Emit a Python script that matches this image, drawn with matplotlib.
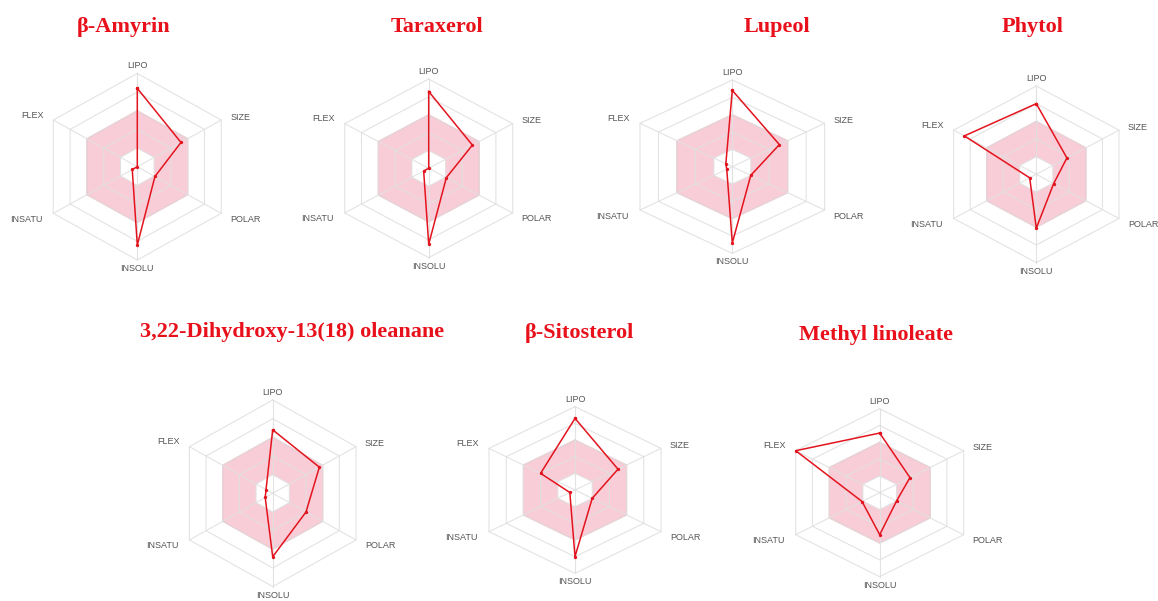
import numpy as np
import matplotlib
matplotlib.use("Agg")
import matplotlib.pyplot as plt

# ---------------- data ----------------
compounds = ["β-Amyrin", "Taraxerol", "Lupeol", "Phytol",
             "3,22-Dihydroxy-13(18) oleanane", "β-Sitosterol", "Methyl linoleate"]
axis_labels = ["LIPO", "SIZE", "POLAR", "INSOLU", "INSATU", "FLEX"]

lipo   = [0.84, 0.86, 0.88, 0.80, 0.68, 0.86, 0.71]
size   = [0.52, 0.52, 0.51, 0.37, 0.56, 0.50, 0.36]
polar  = [0.21, 0.21, 0.20, 0.21, 0.40, 0.20, 0.20]
insolu = [0.84, 0.85, 0.88, 0.61, 0.68, 0.80, 0.50]
insatu = [0.06, 0.06, 0.06, 0.08, 0.09, 0.06, 0.21]
flex   = [0.00, 0.00, 0.07, 0.87, 0.08, 0.40, 1.00]

# optimal (pink) range and grid rings
pink_inner, pink_outer = 0.2, 0.6
rings = [0.2, 0.4, 0.6, 0.8, 1.0]

# ---------------- layout (pixels) ----------------
W, H = 1158, 601
# (cx, cy, half-width of outer hexagon, vertical radius)
geom = [(137.3, 166.7, 84.0, 93.3),
        (428.7, 168.3, 84.0, 89.3),
        (732.3, 166.7, 92.3, 86.7),
        (1036.3, 174.3, 82.7, 88.3),
        (272.7, 493.3, 83.3, 93.3),
        (575.0, 490.0, 86.0, 83.3),
        (879.7, 492.7, 84.0, 84.0)]
title_pos = [(124, 27), (437, 27), (777, 27), (1033, 27),
             (292, 332), (579, 333), (876, 335)]

angles = np.deg2rad([90, 30, -30, -90, -150, 150])
label_off = [((0, 3), "center", "bottom"),
             ((9, 3), "left", "center"),
             ((9, -6), "left", "center"),
             ((0, -4), "center", "top"),
             ((-11, -6), "right", "center"),
             ((-10, 5), "right", "center")]

red = "#e3141e"
grid_col = "#e0e0e0"

fig = plt.figure(figsize=(W / 100, H / 100), dpi=100)
fig.patch.set_facecolor("white")

ext = 1.25
for i, name in enumerate(compounds):
    cx, cy, hw, ry = geom[i]
    sx = hw / np.cos(np.deg2rad(30))  # pixels per unit in x
    wpx = 2 * ext * sx
    hpx = 2 * ext * ry
    left = cx - ext * sx
    bottom = H - (cy + ext * ry)
    ax = fig.add_axes([left / W, bottom / H, wpx / W, hpx / H])
    ax.set_xlim(-ext, ext)
    ax.set_ylim(-ext, ext)
    ax.axis("off")

    cosa, sina = np.cos(angles), np.sin(angles)
    closed_c = np.append(cosa, cosa[0])
    closed_s = np.append(sina, sina[0])

    # pink optimal zone (ring between inner and outer hexagon)
    outer_x, outer_y = pink_outer * closed_c, pink_outer * closed_s
    inner_x, inner_y = pink_inner * closed_c[::-1], pink_inner * closed_s[::-1]
    ax.fill(np.concatenate([outer_x, inner_x]), np.concatenate([outer_y, inner_y]),
            facecolor="#f9cdd7", edgecolor="none", zorder=1)
    ax.plot(outer_x, outer_y, color="#f2aebd", lw=0.8, zorder=2)

    # grid
    for r in rings:
        ax.plot(r * closed_c, r * closed_s, color=grid_col, lw=0.8, zorder=2, alpha=0.9)
    for a in angles:
        ax.plot([0, np.cos(a)], [0, np.sin(a)], color=grid_col, lw=0.8, zorder=2, alpha=0.9)

    # axis labels
    for j, lab in enumerate(axis_labels):
        (dx, dy), ha, va = label_off[j]
        ax.annotate(lab, xy=(cosa[j], sina[j]), xytext=(dx, dy),
                    textcoords="offset pixels", ha=ha, va=va,
                    fontsize=6.5, color="#555555", family="Liberation Sans")

    # compound profile
    vals = np.array([lipo[i], size[i], polar[i], insolu[i], insatu[i], flex[i]])
    vals_c = np.append(vals, vals[0])
    ax.plot(vals_c * closed_c, vals_c * closed_s, color=red, lw=1.1, zorder=3,
            marker="o", markersize=2.4, markeredgewidth=0)

    tx, ty = title_pos[i]
    fig.text(tx / W, 1 - ty / H, name, ha="center", va="center",
             fontsize=16, fontweight="bold", color="#e8101a", family="Liberation Serif")

fig.savefig("out.png", dpi=100, facecolor="white")
